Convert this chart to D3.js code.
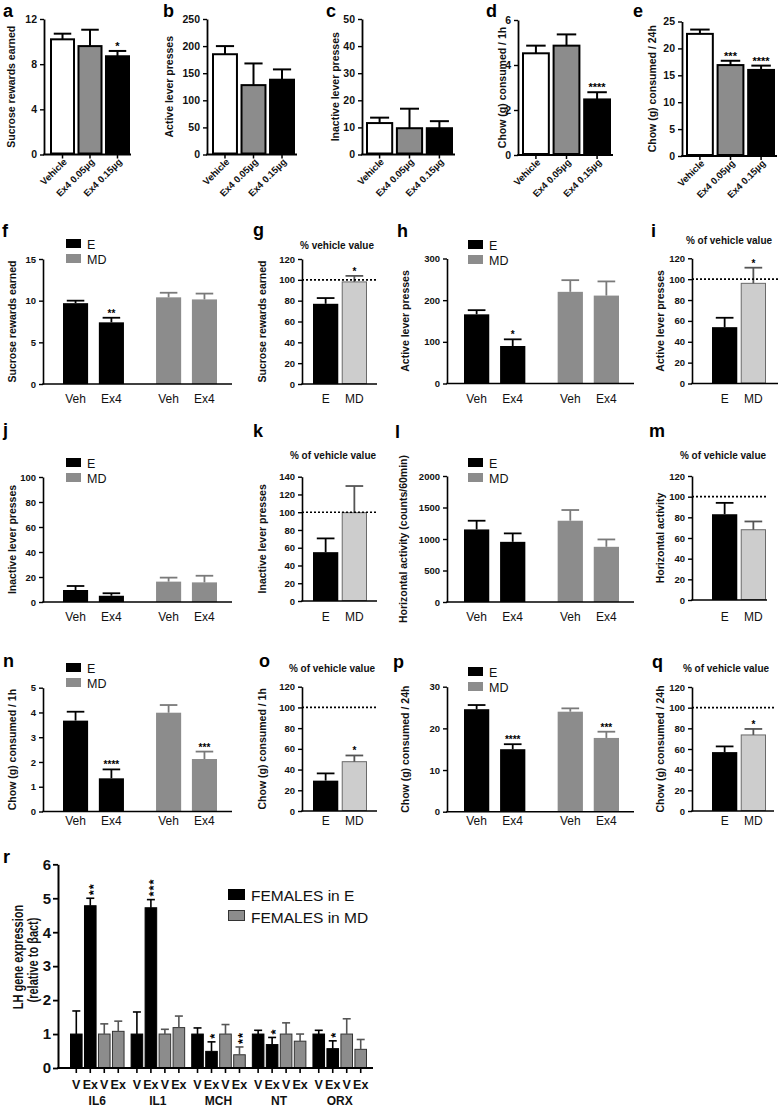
<!DOCTYPE html>
<html><head><meta charset="utf-8">
<script src="https://cdn.jsdelivr.net/npm/d3@7"></script>
<style>
body{margin:0;background:#fff;}
svg text{font-family:'Liberation Sans',Arial,Helvetica,sans-serif;}
</style>
</head><body>
<script>
// ---------------- DATA ----------------
const doseCats = ["Vehicle", "Ex4 0.05µg", "Ex4 0.15µg"];
const aMean = [10.2, 9.6, 8.7],   aSem = [0.5, 1.45, 0.47],  aSig = ["", "", "*"];
const bMean = [185, 128, 138],    bSem = [15, 40, 19],       bSig = ["", "", ""];
const cMean = [11.6, 9.7, 9.7],   cSem = [2.0, 7.2, 2.6],    cSig = ["", "", ""];
const dMean = [4.52, 4.86, 2.47], dSem = [0.34, 0.5, 0.32],  dSig = ["", "", "****"];
const eMean = [22.7, 16.9, 16.0], eSem = [0.8, 0.8, 0.8],    eSig = ["", "***", "****"];

const groupCats = ["E", "MD"];
const txCats = ["Veh", "Ex4"];
const fE = [9.7, 7.4],   fESem = [0.3, 0.55],  fMD = [10.4, 10.15], fMDSem = [0.55, 0.7], fESig = ["", "**"],   fMDSig = ["", ""];
const hE = [166, 90],    hESem = [10, 16],     hMD = [220, 211],    hMDSem = [28, 34],    hESig = ["", "*"],    hMDSig = ["", ""];
const jE = [9.6, 5.0],   jESem = [3.2, 2.0],   jMD = [16.3, 15.7],  jMDSem = [3.2, 5.3],  jESig = ["", ""],     jMDSig = ["", ""];
const lE = [1152, 955],  lESem = [138, 134],   lMD = [1290, 876],   lMDSem = [170, 117],  lESig = ["", ""],     lMDSig = ["", ""];
const nE = [3.67, 1.34], nESem = [0.36, 0.36], nMD = [3.99, 2.12],  nMDSem = [0.31, 0.3], nESig = ["", "****"], nMDSig = ["", "***"];
const pE = [24.6, 15.0], pESem = [1.0, 1.2],   pMD = [24.0, 17.7],  pMDSem = [0.8, 1.5],  pESig = ["", "****"], pMDSig = ["", "***"];

const pctCats = ["E", "MD"];
const gPct = [77, 98],    gSem = [5.5, 5.8], gSig = ["", "*"];
const iPct = [54, 96],    iSem = [9, 15],    iSig = ["", "*"];
const kPct = [55, 99.5],  kSem = [15.5, 30], kSig = ["", ""];
const mPct = [83, 68],    mSem = [11, 8],    mSig = ["", ""];
const oPct = [29.3, 47.6],oSem = [7, 6],     oSig = ["", "*"];
const qPct = [57, 73.6],  qSem = [5.5, 5.8], qSig = ["", "*"];

const rGenes = ["IL6", "IL1", "MCH", "NT", "ORX"];
const rSeries = ["E-V", "E-Ex", "MD-V", "MD-Ex"];
const rSeriesLabels = ["V", "Ex", "V", "Ex"];
const rEV = [1.0, 1.0, 1.0, 1.0, 1.0],      rEVSem = [0.68, 0.65, 0.18, 0.11, 0.11];
const rEEx = [4.78, 4.72, 0.49, 0.69, 0.57], rEExSem = [0.22, 0.24, 0.28, 0.21, 0.23];
const rMDV = [1.0, 1.0, 1.0, 1.0, 1.0],     rMDVSem = [0.3, 0.14, 0.28, 0.33, 0.45];
const rMDEx = [1.08, 1.19, 0.39, 0.79, 0.55], rMDExSem = [0.3, 0.34, 0.23, 0.21, 0.29];
const rEExSig = ["**", "***", "*", "*", "*"];
const rMDExSig = ["", "", "**", "", ""];
const rLegend = ["FEMALES in E", "FEMALES in MD"];

// ---------------- DRAWING ----------------
const svg = d3.select("body").append("svg").attr("width", 779).attr("height", 1108);
const C_GRAY = "#8c8c8c", C_LIGHT = "#cdcdcd";

function letter(t, x, y) {
  svg.append("text").attr("x", x).attr("y", y).attr("font-size", 18).attr("font-weight", "bold").text(t);
}
function yLabel(t, x, cy, fs) {
  svg.append("text").attr("transform", `translate(${x},${cy}) rotate(-90)`)
    .attr("text-anchor", "middle").attr("dominant-baseline", "central")
    .attr("font-size", fs).attr("font-weight", "bold").attr("fill", "#111").text(t);
}
function yAxis(y, ticks, axisX, fs, sw) {
  const ax = svg.append("g").attr("transform", `translate(${axisX},0)`)
    .call(d3.axisLeft(y).tickValues(ticks).tickSize(4).tickSizeOuter(0).tickPadding(3).tickFormat(d3.format("d")));
  ax.select(".domain").attr("stroke", "#000").attr("stroke-width", sw || 1.6);
  ax.selectAll(".tick line").attr("stroke", "#000").attr("stroke-width", 1.4);
  ax.selectAll(".tick text").attr("font-size", fs).attr("font-weight", "bold").attr("fill", "#111");
  return ax;
}
function xLine(x1, x2, y0, sw) {
  svg.append("line").attr("x1", x1 - 0.8).attr("x2", x2).attr("y1", y0).attr("y2", y0)
    .attr("stroke", "#000").attr("stroke-width", sw || 1.6);
}
function errBar(cx, yMean, yTop, cap, color, sw) {
  svg.append("line").attr("x1", cx).attr("x2", cx).attr("y1", yMean).attr("y2", yTop)
    .attr("stroke", color).attr("stroke-width", sw || 1.8);
  svg.append("line").attr("x1", cx - cap / 2).attr("x2", cx + cap / 2).attr("y1", yTop).attr("y2", yTop)
    .attr("stroke", color).attr("stroke-width", sw || 1.8);
}
function stars(cx, yTop, s, fs) {
  if (!s) return;
  svg.append("text").attr("x", cx).attr("y", yTop + 1).attr("text-anchor", "middle")
    .attr("font-size", fs || 11).attr("font-weight", "bold").text(s);
}

// Row 1 (a-e)
function doseRow(p) {
  const y = d3.scaleLinear().domain([0, p.max]).range([p.y0, p.yTop]);
  const x = d3.scaleBand().domain(doseCats).range(p.band).paddingInner(0.09);
  const fills = ["#ffffff", C_GRAY, "#000000"];
  doseCats.forEach((c, i) => {
    svg.append("rect").attr("x", x(c) + 1).attr("y", y(p.mean[i]))
      .attr("width", x.bandwidth() - 2).attr("height", y(0) - y(p.mean[i]) - 1)
      .attr("fill", fills[i]).attr("stroke", "#000").attr("stroke-width", 2);
    const cx = x(c) + x.bandwidth() / 2;
    errBar(cx, y(p.mean[i]), y(p.mean[i] + p.sem[i]), x.bandwidth() * 0.7, "#000", 2);
    stars(cx, y(p.mean[i] + p.sem[i]) - 2, p.sig[i], 11);
  });
  yAxis(y, p.ticks, p.axisX, 10.5, 1.8);
  xLine(p.axisX, p.xEnd, p.y0, 1.8);
  const xa = svg.append("g").attr("transform", `translate(0,${p.y0})`)
    .call(d3.axisBottom(x).tickSize(4).tickSizeOuter(0));
  xa.select(".domain").remove();
  xa.selectAll(".tick line").attr("stroke", "#000").attr("stroke-width", 1.5);
  xa.selectAll(".tick text").attr("x", 0).attr("y", 0).attr("dy", 0)
    .attr("transform", "translate(5,8) rotate(-45)").attr("text-anchor", "end")
    .attr("font-size", 9.5).attr("font-weight", "bold").attr("fill", "#111");
  yLabel(p.label, p.labelX, (p.y0 + p.yTop) / 2, 10.5);
  letter(p.letter, p.lx, p.ly);
}
doseRow({letter: "a", lx: 3, ly: 17, axisX: 44, band: [50, 130], xEnd: 131, y0: 154.5, yTop: 19, max: 12, ticks: [0, 4, 8, 12], mean: aMean, sem: aSem, sig: aSig, label: "Sucrose rewards earned", labelX: 11});
doseRow({letter: "b", lx: 163, ly: 17, axisX: 207, band: [212, 295], xEnd: 297, y0: 154.5, yTop: 19, max: 250, ticks: d3.range(0, 251, 50), mean: bMean, sem: bSem, sig: bSig, label: "Active lever presses", labelX: 169});
doseRow({letter: "c", lx: 326, ly: 17, axisX: 362, band: [366, 453], xEnd: 455, y0: 154.5, yTop: 19, max: 50, ticks: d3.range(0, 51, 10), mean: cMean, sem: cSem, sig: cSig, label: "Inactive lever presses", labelX: 335});
doseRow({letter: "d", lx: 486, ly: 17, axisX: 518, band: [522, 611], xEnd: 613, y0: 155, yTop: 20, max: 6, ticks: [0, 2, 4, 6], mean: dMean, sem: dSem, sig: dSig, label: "Chow (g) consumed / 1h", labelX: 502});
doseRow({letter: "e", lx: 633, ly: 17, axisX: 682, band: [686, 775], xEnd: 777, y0: 156, yTop: 21.5, max: 25, ticks: d3.range(0, 26, 5), mean: eMean, sem: eSem, sig: eSig, label: "Chow (g) consumed / 24h", labelX: 652});

// Grouped panels (f,h,j,l,n,p)
function legend(x, y) {
  [["E", "#000"], ["MD", C_GRAY]].forEach((d, i) => {
    svg.append("rect").attr("x", x).attr("y", y + i * 15).attr("width", 15).attr("height", 9).attr("fill", d[1]);
    svg.append("text").attr("x", x + 21).attr("y", y + i * 15 + 9.5).attr("font-size", 12.5).attr("fill", "#111").text(d[0]);
  });
}
function groupPanel(p) {
  const y = d3.scaleLinear().domain([0, p.max]).range([p.y0, p.yTop]);
  const outer = d3.scaleBand().domain(groupCats).range(p.groups).paddingInner(0.345);
  const inner = d3.scaleBand().domain(txCats).range([0, outer.bandwidth()]).paddingInner(0.3);
  const sets = {E: [p.E, p.ESem, p.ESig], MD: [p.MD, p.MDSem, p.MDSig]};
  groupCats.forEach(g => {
    const [m, s, sg] = sets[g];
    txCats.forEach((t, i) => {
      const x0 = outer(g) + inner(t), bw = inner.bandwidth(), cx = x0 + bw / 2;
      svg.append("rect").attr("x", x0).attr("y", y(m[i])).attr("width", bw).attr("height", y(0) - y(m[i]))
        .attr("fill", g === "E" ? "#000" : C_GRAY);
      errBar(cx, y(m[i]), y(m[i] + s[i]), bw * 0.7, g === "E" ? "#000" : "#7a7a7a", 1.8);
      stars(cx, y(m[i] + s[i]) - 2, sg[i], 10);
      svg.append("text").attr("x", cx).attr("y", p.y0 + p.lab).attr("text-anchor", "middle")
        .attr("dominant-baseline", "central").attr("font-size", 12).attr("fill", "#111").text(t);
    });
  });
  yAxis(y, p.ticks, p.axisX, 9.5, 1.6);
  xLine(p.axisX, p.xEnd, p.y0, 1.6);
  yLabel(p.label, p.labelX, (p.y0 + p.yTop) / 2, 10.5);
  legend(p.leg[0], p.leg[1]);
  letter(p.letter, p.lx, p.ly);
}
groupPanel({letter: "f", lx: 2, ly: 237, axisX: 43, groups: [63, 217], xEnd: 232, y0: 384, yTop: 259, max: 15, ticks: [0, 5, 10, 15], E: fE, ESem: fESem, MD: fMD, MDSem: fMDSem, ESig: fESig, MDSig: fMDSig, label: "Sucrose rewards earned", labelX: 12, leg: [66, 239], lab: 15});
groupPanel({letter: "h", lx: 397, ly: 237, axisX: 447, groups: [464, 619], xEnd: 634, y0: 383.5, yTop: 258.5, max: 300, ticks: [0, 100, 200, 300], E: hE, ESem: hESem, MD: hMD, MDSem: hMDSem, ESig: hESig, MDSig: hMDSig, label: "Active lever presses", labelX: 405, leg: [468, 240], lab: 15});
groupPanel({letter: "j", lx: 3, ly: 436, axisX: 43, groups: [63, 217], xEnd: 232, y0: 602, yTop: 477, max: 100, ticks: d3.range(0, 101, 20), E: jE, ESem: jESem, MD: jMD, MDSem: jMDSem, ESig: jESig, MDSig: jMDSig, label: "Inactive lever presses", labelX: 12, leg: [66, 458], lab: 15});
groupPanel({letter: "l", lx: 395, ly: 438, axisX: 447, groups: [464, 619], xEnd: 634, y0: 602, yTop: 476, max: 2000, ticks: d3.range(0, 2001, 500), E: lE, ESem: lESem, MD: lMD, MDSem: lMDSem, ESig: lESig, MDSig: lMDSig, label: "Horizontal activity (counts/60min)", labelX: 403, leg: [468, 458], lab: 15});
groupPanel({letter: "n", lx: 3, ly: 667, axisX: 43, groups: [63, 217], xEnd: 232, y0: 811.5, yTop: 687.7, max: 5, ticks: d3.range(0, 6, 1), E: nE, ESem: nESem, MD: nMD, MDSem: nMDSem, ESig: nESig, MDSig: nMDSig, label: "Chow (g) consumed / 1h", labelX: 12, leg: [66, 663], lab: 9});
groupPanel({letter: "p", lx: 393, ly: 668, axisX: 447, groups: [464, 619], xEnd: 634, y0: 811.7, yTop: 686.7, max: 30, ticks: [0, 10, 20, 30], E: pE, ESem: pESem, MD: pMD, MDSem: pMDSem, ESig: pESig, MDSig: pMDSig, label: "Chow (g) consumed / 24h", labelX: 405, leg: [468, 667], lab: 9});

// Percent panels (g,i,k,m,o,q)
function pctPanel(p) {
  const y = d3.scaleLinear().domain([0, p.max]).range([p.y0, p.yTop]);
  const x = d3.scaleBand().domain(pctCats).range(p.band).paddingInner(0.12);
  pctCats.forEach((c, i) => {
    const bw = x.bandwidth(), cx = x(c) + bw / 2;
    if (i === 0) {
      svg.append("rect").attr("x", x(c)).attr("y", y(p.v[i])).attr("width", bw).attr("height", y(0) - y(p.v[i])).attr("fill", "#000");
    } else {
      svg.append("rect").attr("x", x(c) + 0.5).attr("y", y(p.v[i])).attr("width", bw - 1).attr("height", y(0) - y(p.v[i]) - 0.5)
        .attr("fill", C_LIGHT).attr("stroke", "#6a6a6a").attr("stroke-width", 1);
    }
    errBar(cx, y(p.v[i]), y(p.v[i] + p.s[i]), bw * 0.7, i === 0 ? "#000" : "#555", 1.8);
    stars(cx, y(p.v[i] + p.s[i]) - 2, p.sig[i], 10);
    svg.append("text").attr("x", cx).attr("y", p.y0 + p.lab).attr("text-anchor", "middle")
      .attr("dominant-baseline", "central").attr("font-size", 12).attr("fill", "#111").text(c);
  });
  svg.append("line").attr("x1", p.axisX).attr("x2", p.xEnd).attr("y1", y(100)).attr("y2", y(100))
    .attr("stroke", "#000").attr("stroke-width", 1.6).attr("stroke-dasharray", "2,2");
  yAxis(y, p.ticks, p.axisX, 9.5, 1.6);
  xLine(p.axisX, p.xEnd, p.y0, 1.6);
  yLabel(p.label, p.labelX, (p.y0 + p.yTop) / 2, 10.5);
  svg.append("text").attr("x", p.title[1]).attr("y", p.title[2]).attr("text-anchor", "middle")
    .attr("font-size", 10).attr("font-weight", "bold").attr("fill", "#111").text(p.title[0]);
  letter(p.letter, p.lx, p.ly);
}
pctPanel({letter: "g", lx: 253, ly: 236, axisX: 302, band: [313, 367], xEnd: 377, y0: 384, yTop: 259, max: 120, ticks: d3.range(0, 121, 20), v: gPct, s: gSem, sig: gSig, label: "Sucrose rewards earned", labelX: 262, title: ["% vehicle value", 337, 249], lab: 15});
pctPanel({letter: "i", lx: 651, ly: 237, axisX: 692, band: [712, 766], xEnd: 778, y0: 383.5, yTop: 258.3, max: 120, ticks: d3.range(0, 121, 20), v: iPct, s: iSem, sig: iSig, label: "Active lever presses", labelX: 660, title: ["% of vehicle value", 729, 244], lab: 15});
pctPanel({letter: "k", lx: 253, ly: 437, axisX: 302, band: [313, 367], xEnd: 377, y0: 601, yTop: 476.7, max: 140, ticks: d3.range(0, 141, 20), v: kPct, s: kSem, sig: kSig, label: "Inactive lever presses", labelX: 262, title: ["% of vehicle value", 333, 459], lab: 16});
pctPanel({letter: "m", lx: 649, ly: 437, axisX: 692, band: [712, 766], xEnd: 767, y0: 600, yTop: 476, max: 120, ticks: d3.range(0, 121, 20), v: mPct, s: mSem, sig: mSig, label: "Horizontal activity", labelX: 660, title: ["% of vehicle value", 723, 459], lab: 17});
pctPanel({letter: "o", lx: 259, ly: 667, axisX: 302, band: [313, 367], xEnd: 377, y0: 811, yTop: 686.7, max: 120, ticks: d3.range(0, 121, 20), v: oPct, s: oSem, sig: oSig, label: "Chow (g) consumed / 1h", labelX: 262, title: ["% of vehicle value", 332, 672], lab: 9.5});
pctPanel({letter: "q", lx: 652, ly: 668, axisX: 692, band: [712, 766], xEnd: 774, y0: 811, yTop: 687, max: 120, ticks: d3.range(0, 121, 20), v: qPct, s: qSem, sig: qSig, label: "Chow (g) consumed / 24h", labelX: 660, title: ["% of vehicle value", 726, 672], lab: 9.5});

// Panel r
(function () {
  const y0 = 1068, yTop = 864.3, axisX = 58;
  const y = d3.scaleLinear().domain([0, 6]).range([y0, yTop]);
  const outer = d3.scaleBand().domain(rGenes).range([70, 367]).paddingInner(0.1);
  const inner = d3.scaleBand().domain(rSeries).range([0, outer.bandwidth()]).paddingInner(0.1);
  const vals = {"E-V": [rEV, rEVSem], "E-Ex": [rEEx, rEExSem], "MD-V": [rMDV, rMDVSem], "MD-Ex": [rMDEx, rMDExSem]};
  rGenes.forEach((g, gi) => {
    rSeries.forEach((s, si) => {
      const [m, se] = vals[s];
      const bw = inner.bandwidth(), x0 = outer(g) + inner(s), cx = x0 + bw / 2;
      const isE = s.startsWith("E");
      svg.append("rect").attr("x", x0 + 0.5).attr("y", y(m[gi])).attr("width", bw - 1).attr("height", y(0) - y(m[gi]))
        .attr("fill", isE ? "#000" : C_GRAY).attr("stroke", isE ? "#000" : "#333").attr("stroke-width", 1);
      errBar(cx, y(m[gi]), y(m[gi] + se[gi]), 8, isE ? "#000" : "#555", 1.6);
      svg.append("line").attr("x1", cx).attr("x2", cx).attr("y1", y0).attr("y2", y0 + 5).attr("stroke", "#000").attr("stroke-width", 1.6);
      svg.append("text").attr("x", cx).attr("y", 1088.5).attr("text-anchor", "middle").attr("font-size", 12.5)
        .attr("font-weight", "bold").attr("fill", "#111").text(rSeriesLabels[si]);
      const sig = s === "E-Ex" ? rEExSig[gi] : (s === "MD-Ex" ? rMDExSig[gi] : "");
      if (sig) {
        const fs = 13;
        svg.append("text").attr("transform", `translate(${cx + 0.58 * fs},${y(m[gi] + se[gi]) - 3}) rotate(-90)`)
          .attr("text-anchor", "start").attr("font-size", fs).attr("font-weight", "bold")
          .attr("letter-spacing", 1).text(sig);
      }
    });
    svg.append("text").attr("x", outer(g) + outer.bandwidth() / 2).attr("y", 1105).attr("text-anchor", "middle")
      .attr("font-size", 12).attr("font-weight", "bold").attr("fill", "#111").text(g);
  });
  const ax = yAxis(y, d3.range(0, 7), axisX, 15, 2);
  ax.selectAll(".tick line").attr("x2", -5).attr("stroke-width", 1.8);
  xLine(axisX, 373, y0, 2);
  svg.append("text").attr("transform", `translate(19,957) rotate(-90) scale(1,1.25)`).attr("text-anchor", "middle")
    .attr("dominant-baseline", "central").attr("font-size", 11).attr("font-weight", "bold").attr("fill", "#111").text("LH gene expression");
  svg.append("text").attr("transform", `translate(34,960) rotate(-90) scale(1,1.25)`).attr("text-anchor", "middle")
    .attr("dominant-baseline", "central").attr("font-size", 11).attr("font-weight", "bold").attr("fill", "#111").text("(relative to βact)");
  rLegend.forEach((t, i) => {
    svg.append("rect").attr("x", 228.5).attr("y", 889.5 + i * 21).attr("width", 16).attr("height", 10)
      .attr("fill", i === 0 ? "#000" : C_GRAY).attr("stroke", i === 0 ? "#000" : "#333").attr("stroke-width", 1);
    svg.append("text").attr("x", 251).attr("y", 901 + i * 21.5).attr("font-size", 15.5).attr("fill", "#111").text(t);
  });
  letter("r", 3, 863);
})();
</script>
</body></html>
